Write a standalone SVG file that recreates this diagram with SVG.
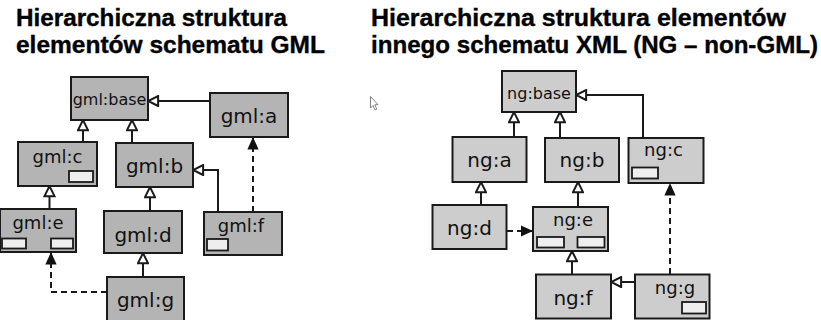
<svg xmlns="http://www.w3.org/2000/svg" width="821" height="320" viewBox="0 0 821 320">
  <style>
    .title { font-family: "Liberation Sans", Arial, sans-serif; font-weight: bold; font-size: 23px; fill: #000; stroke: #000; stroke-width: 0.35; }
    .lbl { font-family: "DejaVu Sans", "Liberation Sans", sans-serif; fill: #111; text-anchor: middle; }
    .s16 { font-size: 16px; }
    .s18 { font-size: 18px; }
    .s20 { font-size: 20px; }
    .gml { fill: #b4b4b4; stroke: #1a1a1a; stroke-width: 2; }
    .ng { fill: #cdcdcd; stroke: #1a1a1a; stroke-width: 2; }
    .slot { fill: #eeeeee; stroke: #1a1a1a; stroke-width: 1.8; }
    .inh { fill: none; stroke: #1a1a1a; stroke-width: 2; marker-end: url(#hollow); }
    .dep { fill: none; stroke: #1a1a1a; stroke-width: 2; stroke-dasharray: 6 4; marker-end: url(#solid); }
  </style>
  <defs>
    <!-- open triangle: specialisation -->
    <marker id="hollow" viewBox="0 0 10 10" refX="9.3" refY="5" markerWidth="12.5" markerHeight="12.5" markerUnits="userSpaceOnUse" orient="auto">
      <path d="M1.2,1 L9.2,5 L1.2,9 z" fill="#fff" stroke="#1a1a1a" stroke-width="1.6" stroke-linejoin="miter"/>
    </marker>
    <!-- filled triangle: reference -->
    <marker id="solid" viewBox="0 0 10 10" refX="10" refY="5" markerWidth="12.5" markerHeight="12.5" markerUnits="userSpaceOnUse" orient="auto">
      <path d="M0,0.5 L10,5 L0,9.5 z" fill="#111"/>
    </marker>
  </defs>

  <!-- headings -->
  <text class="title" x="16" y="26" textLength="271" lengthAdjust="spacingAndGlyphs">Hierarchiczna struktura</text>
  <text class="title" x="16" y="52.5" textLength="309" lengthAdjust="spacingAndGlyphs">elementów schematu GML</text>
  <text class="title" x="371" y="26" textLength="415" lengthAdjust="spacingAndGlyphs">Hierarchiczna struktura elementów</text>
  <text class="title" x="371" y="52.5" textLength="447" lengthAdjust="spacingAndGlyphs">innego schematu XML (NG – non-GML)</text>

  <!-- pointer -->
  <path d="M370.5,96.5 L370.5,108 L373,105.5 L375,110 L376.8,109.2 L374.8,104.8 L378,104.6 z" fill="#fff" stroke="#777" stroke-width="0.9"/>

  <!-- connectors -->
  <g id="connectors">
    <path class="inh" d="M83,142 V120"/>
    <path class="inh" d="M132,143 V120"/>
    <path class="inh" d="M210,101 H148"/>
    <path class="inh" d="M49.5,209 V186"/>
    <path class="inh" d="M150,211 V187"/>
    <path class="inh" d="M218,212 V170 H193"/>
    <path class="dep" d="M253,212 V137"/>
    <path class="inh" d="M143,277 V253"/>
    <path class="dep" d="M107,292 H51 V252"/>

    <path class="inh" d="M514,137 V112"/>
    <path class="inh" d="M560,138 V112"/>
    <path class="inh" d="M643,138 V95 H576"/>
    <path class="inh" d="M481,205 V182"/>
    <path class="inh" d="M578,207 V182"/>
    <path class="dep" d="M507,231 H533"/>
    <path class="inh" d="M572,274 V251"/>
    <path class="inh" d="M635,282 H611"/>
    <path class="dep" d="M670,274 V183"/>
  </g>

  <!-- GML nodes -->
  <g id="gml-base">
    <rect class="gml" x="71" y="77" width="77" height="43"/>
    <text class="lbl s16" x="109.5" y="105">gml:base</text>
  </g>
  <g id="gml-a">
    <rect class="gml" x="210" y="93" width="78" height="44"/>
    <text class="lbl s20" x="249" y="123">gml:a</text>
  </g>
  <g id="gml-c">
    <rect class="gml" x="18" y="142" width="79" height="44"/>
    <text class="lbl s18" x="57.5" y="163">gml:c</text>
    <rect class="slot" x="69" y="171" width="24" height="11"/>
  </g>
  <g id="gml-b">
    <rect class="gml" x="116" y="143" width="77" height="44"/>
    <text class="lbl s20" x="154.5" y="173">gml:b</text>
  </g>
  <g id="gml-e">
    <rect class="gml" x="0" y="209" width="76" height="43"/>
    <text class="lbl s18" x="38" y="229">gml:e</text>
    <rect class="slot" x="2" y="238.5" width="24" height="10"/>
    <rect class="slot" x="51" y="238.5" width="22" height="10"/>
  </g>
  <g id="gml-d">
    <rect class="gml" x="104" y="211" width="78" height="42"/>
    <text class="lbl s20" x="143" y="241.5">gml:d</text>
  </g>
  <g id="gml-f">
    <rect class="gml" x="204" y="212" width="78" height="43"/>
    <text class="lbl s18" x="241" y="231.5">gml:f</text>
    <rect class="slot" x="207" y="239" width="21" height="11.5"/>
  </g>
  <g id="gml-g">
    <rect class="gml" x="107" y="277" width="77" height="45"/>
    <text class="lbl s20" x="145.5" y="307">gml:g</text>
  </g>

  <!-- NG nodes -->
  <g id="ng-base">
    <rect class="ng" x="502" y="71" width="74" height="41"/>
    <text class="lbl s16" x="539" y="99">ng:base</text>
  </g>
  <g id="ng-a">
    <rect class="ng" x="452.5" y="137" width="74" height="45"/>
    <text class="lbl s20" x="489.5" y="166.5">ng:a</text>
  </g>
  <g id="ng-b">
    <rect class="ng" x="545" y="138" width="74" height="44"/>
    <text class="lbl s20" x="582" y="167">ng:b</text>
  </g>
  <g id="ng-c">
    <rect class="ng" x="628.5" y="138" width="75" height="45"/>
    <text class="lbl s18" x="663.5" y="155.5">ng:c</text>
    <rect class="slot" x="632" y="167.5" width="26" height="11"/>
  </g>
  <g id="ng-d">
    <rect class="ng" x="432.5" y="205" width="74" height="44"/>
    <text class="lbl s20" x="469.5" y="235">ng:d</text>
  </g>
  <g id="ng-e">
    <rect class="ng" x="533" y="207" width="75" height="44"/>
    <text class="lbl s18" x="573" y="226">ng:e</text>
    <rect class="slot" x="537" y="237" width="27" height="10.5"/>
    <rect class="slot" x="577.5" y="237" width="27" height="10.5"/>
  </g>
  <g id="ng-f">
    <rect class="ng" x="536" y="274.5" width="75" height="44"/>
    <text class="lbl s20" x="573" y="305">ng:f</text>
  </g>
  <g id="ng-g">
    <rect class="ng" x="635" y="274.5" width="74.5" height="44"/>
    <text class="lbl s18" x="675" y="293.5">ng:g</text>
    <rect class="slot" x="682" y="302" width="24" height="11.5"/>
  </g>
</svg>
